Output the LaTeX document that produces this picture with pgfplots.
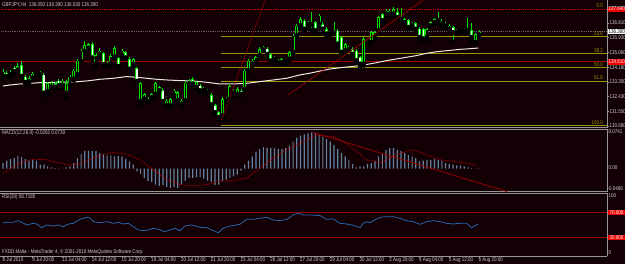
\documentclass[border=0pt]{standalone}
\usepackage{pgfplots}
\pgfplotsset{compat=1.18}
\usepackage{pgfplotstable}
\usepackage{fontspec}
\setmainfont{Liberation Sans}
\newfontfamily\mt[FakeStretch=0.82]{Liberation Sans}
\newcommand\mtf{\mt\fontsize{5.5}{6.5}\selectfont}
\definecolor{bg}{RGB}{19,0,5}
\definecolor{frame}{RGB}{150,150,150}
\definecolor{lbl}{RGB}{205,205,205}
\definecolor{cgreen}{RGB}{0,225,0}
\definecolor{cwhite}{RGB}{235,255,235}
\definecolor{ma}{RGB}{235,235,222}
\definecolor{fib}{RGB}{150,150,0}
\definecolor{redline}{RGB}{150,0,0}
\definecolor{reddot}{RGB}{200,0,0}
\definecolor{bid}{RGB}{95,95,95}
\definecolor{hist}{RGB}{100,130,160}
\definecolor{rsi}{RGB}{40,100,170}
\definecolor{boxred}{RGB}{235,0,0}

\pgfplotstableread{
i o h l c
0 133.62 134.05 133.50 133.91
1 133.85 133.97 133.54 133.62
2 133.72 134.01 133.62 133.91
3 134.15 134.25 133.82 133.91
4 133.97 134.41 133.89 134.25
5 134.31 134.55 133.50 133.62
6 133.62 133.72 133.18 133.26
7 133.26 133.66 133.18 133.52
8 133.52 133.91 133.46 133.78
9 133.91 133.97 133.70 133.78
10 133.87 133.93 133.66 133.72
11 133.72 133.82 132.52 132.62
12 132.72 133.32 132.52 133.22
13 132.98 133.38 132.90 133.26
14 133.22 133.30 132.90 132.98
15 133.38 133.46 132.98 133.06
16 133.06 133.46 132.98 133.38
17 132.62 133.42 132.39 133.22
18 133.12 133.72 133.02 133.62
19 133.46 134.05 133.38 133.97
20 133.72 134.65 133.66 134.57
21 134.51 135.24 134.45 135.16
22 135.10 135.76 135.05 135.50
23 135.56 135.64 135.20 135.30
24 135.56 135.70 134.61 134.71
25 134.37 135.05 134.25 134.91
26 134.91 135.30 134.85 135.16
27 135.01 135.10 134.25 134.31
28 134.25 134.57 134.17 134.45
29 134.37 134.97 134.27 134.85
30 134.77 135.44 134.65 135.30
31 134.71 134.81 134.15 134.21
32 134.85 135.24 134.71 135.16
33 135.07 135.16 134.65 134.71
34 134.67 134.77 133.97 134.05
35 134.31 134.75 134.25 134.65
36 134.11 134.21 133.26 133.32
37 132.13 133.32 131.99 133.22
38 132.27 132.66 132.17 132.58
39 132.13 132.39 132.07 132.29
40 132.37 132.66 132.27 132.58
41 132.56 133.32 132.47 133.22
42 132.76 133.06 132.66 132.98
43 132.82 132.92 132.07 132.13
44 131.87 132.27 131.79 132.19
45 131.87 132.37 131.77 132.27
46 132.47 132.86 132.39 132.78
47 132.17 132.78 132.07 132.68
48 131.97 132.27 131.87 132.19
49 132.17 133.36 132.07 133.26
50 133.16 133.46 133.06 133.38
51 133.48 133.58 133.06 133.16
52 132.96 133.36 132.86 133.28
53 133.08 133.18 132.68 132.76
54 132.76 132.98 132.66 132.88
55 132.66 132.86 132.52 132.78
56 132.52 132.62 131.87 131.93
57 131.93 131.99 131.39 131.47
58 131.49 131.59 131.08 131.18
59 131.28 132.39 131.04 132.29
60 132.17 132.43 132.07 132.29
61 132.27 133.18 132.19 133.06
62 132.78 132.86 132.54 132.62
63 132.56 132.98 132.47 132.88
64 132.78 132.86 132.47 132.56
65 132.86 134.05 132.78 133.97
66 133.95 134.65 133.87 134.57
67 134.35 134.65 134.25 134.57
68 134.45 134.85 134.35 134.77
69 134.85 135.36 134.75 135.26
70 135.20 135.44 135.14 135.38
71 135.28 135.40 134.85 134.93
72 134.97 135.05 134.45 134.53
73 134.79 134.87 134.55 134.63
74 134.43 134.67 134.37 134.59
75 134.45 134.75 134.37 134.67
76 134.53 134.75 134.45 134.67
77 134.65 135.16 134.57 135.07
78 135.05 136.14 134.97 136.06
79 136.04 136.75 135.96 136.65
80 136.63 137.15 136.55 137.05
81 136.95 137.05 136.35 136.43
82 136.71 136.95 136.63 136.87
83 136.71 137.49 136.39 136.87
84 136.85 136.95 136.26 136.33
85 136.73 137.35 136.65 137.25
86 136.75 136.85 136.35 136.43
87 136.45 136.55 136.06 136.14
88 136.14 136.35 136.06 136.28
89 136.22 136.89 136.14 136.37
90 136.35 136.43 135.40 135.54
91 135.96 136.04 134.97 135.05
92 135.14 135.64 135.05 135.56
93 135.22 135.46 135.14 135.38
94 135.28 135.36 134.85 134.93
95 135.16 135.24 134.45 134.55
96 134.77 134.85 134.21 134.35
97 134.35 135.96 134.27 135.86
98 135.54 135.76 135.46 135.68
99 135.64 136.35 135.56 136.26
100 135.94 136.33 135.86 136.26
101 136.33 137.23 136.26 137.15
102 137.35 137.43 136.85 136.93
103 137.33 137.62 137.25 137.55
104 137.33 137.62 137.25 137.55
105 137.33 137.74 137.25 137.64
106 137.47 137.68 137.05 137.13
107 137.03 137.68 136.95 137.23
108 136.83 137.13 136.75 137.05
109 136.97 137.05 136.45 136.53
110 136.63 136.85 136.55 136.77
111 136.79 136.87 136.35 136.43
112 136.47 136.55 135.86 135.94
113 136.45 136.53 135.76 135.84
114 135.94 136.53 135.84 136.45
115 136.63 136.93 136.55 136.85
116 136.83 137.13 136.75 137.05
117 136.93 137.49 136.85 137.05
118 136.73 137.03 136.65 136.95
119 136.77 136.85 136.55 136.61
120 136.43 136.73 136.35 136.65
121 136.57 136.65 135.70 136.22
122 136.24 136.43 136.16 136.35
123 136.30 136.43 136.24 136.37
124 136.31 136.53 136.26 136.45
125 136.33 137.09 136.26 136.45
126 136.37 136.79 135.70 135.94
127 135.64 136.24 135.56 136.16
128 136.05 136.39 136.03 136.30
}\candles

\pgfplotsset{mtaxis/.style={scale only axis, width=607pt, xmin=-0.81, xmax=162.4,
  axis x line*=box, axis y line*=right,
  axis line style={draw=frame, line width=1pt},
  xtick=\empty, ytick=\empty, clip mode=individual,
  tick style={draw=frame, line width=0.6pt}, major tick length=2pt, tick align=outside,
  yticklabel style={font=\mtf, text=lbl, inner sep=0.5pt},
  xticklabel style={font=\mtf, text=lbl, inner sep=0.5pt}}}

\begin{document}
\begin{tikzpicture}
\fill[bg] (0pt,0pt) rectangle (625pt,264pt);
\useasboundingbox (0pt,0pt) rectangle (625pt,264pt);

% ---------------- main price window
\begin{axis}[mtaxis, at={(0pt,136pt)}, anchor=south west, height=128pt,
  ymin=130.56, ymax=138.18,
  ytick={130.68,131.555,132.43,133.305,134.18,135.055,135.93,136.805,137.68},
  yticklabels={130.680,131.550,132.430,133.300,134.180,135.060,135.930,136.810,137.680}]
\addplot[reddot, densely dotted, line width=0.8pt] coordinates {(-1,137.64) (163,137.64)};
\addplot[bid, densely dotted, line width=0.8pt] coordinates {(-1,136.30) (163,136.30)};
\addplot[redline, line width=1pt] coordinates {(-1,134.49) (163,134.49)};
\addplot[fib, line width=0.9pt] coordinates {(58.6,136.00) (163,136.00)};
\addplot[fib, line width=0.9pt] coordinates {(58.6,134.99) (163,134.99)};
\addplot[fib, line width=0.9pt] coordinates {(58.6,134.17) (163,134.17)};
\addplot[fib, line width=0.9pt] coordinates {(58.6,133.35) (163,133.35)};
\addplot[fib, line width=1.6pt] coordinates {(58.6,130.70) (163,130.70)};
\addplot[ma, line width=1pt] coordinates {(0,133.06) (1.9,133.12) (4.6,133.18) (7.3,133.22) (10,133.26) (12.6,133.26) (15.3,133.30) (18,133.28) (22.5,133.36) (26.1,133.46) (29.7,133.52) (33.2,133.62) (35.9,133.58) (38.6,133.52) (41.3,133.46) (44,133.42) (47.6,133.38) (51.2,133.36) (54.8,133.28) (58.3,133.18) (61.9,133.18) (65.5,133.22) (69.1,133.32) (72.7,133.42) (76.3,133.52) (79.8,133.72) (82.5,133.82) (85.2,133.95) (87.9,134.07) (91.5,134.17) (96,134.27) (100.5,134.45) (103.1,134.57) (105.8,134.67) (108.5,134.77) (111.2,134.87) (113.9,135.01) (116.6,135.10) (119.3,135.16) (122.8,135.24) (125.5,135.28) (127.8,135.32)};
\addplot[only marks, mark=none, error bars/.cd, y dir=plus, y explicit, error mark=none,
  error bar style={draw=cgreen, line width=0.9pt, line cap=butt}]
  table[x=i, y=l, y error expr={\thisrow{h}-\thisrow{l}}] {\candles};
\addplot[only marks, mark=none, error bars/.cd, y dir=plus, y explicit, error mark=none,
  error bar style={draw=cgreen, line width=3pt, line cap=butt}]
  table[x=i, y expr={min(\thisrow{o},\thisrow{c})}, y error expr={max(abs(\thisrow{o}-\thisrow{c}),0.05)}] {\candles};
\addplot[only marks, mark=none, error bars/.cd, y dir=plus, y explicit, error mark=none,
  error bar style={draw=cwhite, line width=1.3pt, line cap=butt}]
  table[x=i, y expr={min(\thisrow{o},\thisrow{c})+0.035}, y error expr={ifthenelse(\thisrow{o}>\thisrow{c},max(\thisrow{o}-\thisrow{c}-0.07,0),0)}] {\candles};
\addplot[only marks, mark=none, error bars/.cd, y dir=plus, y explicit, error mark=none,
  error bar style={draw=bg, line width=1.3pt, line cap=butt}]
  table[x=i, y expr={min(\thisrow{o},\thisrow{c})+0.035}, y error expr={ifthenelse(\thisrow{c}>\thisrow{o},max(\thisrow{c}-\thisrow{o}-0.07,0),0)}] {\candles};
\addplot[reddot, densely dotted, line width=0.8pt] coordinates {(58.8,131.04) (70.5,138.18)};
\addplot[redline, line width=0.7pt] coordinates {(76.7,132.53) (113.0,138.18)};
\node[font=\mtf, text=fib, anchor=south east, inner sep=0.5pt] at (axis cs:161.5,137.66) {0.0};
\node[font=\mtf, text=fib, anchor=south east, inner sep=0.5pt] at (axis cs:161.5,136.03) {23.6};
\node[font=\mtf, text=fib, anchor=south east, inner sep=0.5pt] at (axis cs:161.5,135.02) {38.2};
\node[font=\mtf, text=fib, anchor=south east, inner sep=0.5pt] at (axis cs:161.5,134.20) {50.0};
\node[font=\mtf, text=fib, anchor=south east, inner sep=0.5pt] at (axis cs:161.5,133.38) {61.8};
\node[font=\mtf, text=fib, anchor=south east, inner sep=0.5pt] at (axis cs:161.5,130.75) {100.0};
\coordinate (p1) at (axis cs:162.4,137.64);
\coordinate (p2) at (axis cs:162.4,136.30);
\coordinate (p3) at (axis cs:162.4,134.49);
\end{axis}
\node[font=\mtf, fill=boxred, text=white, anchor=west, inner sep=0.6pt, minimum width=17pt] at ([xshift=0.8pt]p1) {137.640};
\node[font=\mtf, fill=white, text=black, anchor=west, inner sep=0.6pt, minimum width=17pt] at ([xshift=0.8pt]p2) {136.300};
\node[font=\mtf, fill=boxred, text=white, anchor=west, inner sep=0.6pt, minimum width=17pt] at ([xshift=0.8pt]p3) {134.510};
\node[font=\mtf, text=lbl, anchor=west, inner sep=0pt] at (2pt,259pt) {GBPJPY,H4\ \ 136.050 136.390 136.030 136.300};

% ---------------- MACD window
\begin{axis}[mtaxis, at={(0pt,72pt)}, anchor=south west, height=62.5pt,
  ymin=-0.0475, ymax=0.0799]
\addplot[ybar, bar width=1.2pt, fill=hist, draw=none] coordinates {
(0,0.0115) (1,0.0162) (2,0.0195) (3,0.0216) (4,0.0263) (5,0.0236) (6,0.0195) (7,0.0162) (8,0.0182) (9,0.0162)
(10,0.0081) (11,0.0081) (12,0.0047) (13,0.0027) (14,0.0013) (15,-0.0007) (16,0.0003) (17,0.0027) (18,0.0047) (19,0.0115)
(20,0.0216) (21,0.0296) (22,0.0364) (23,0.0364) (24,0.0364) (25,0.0364) (26,0.0317) (27,0.0296) (28,0.0270) (29,0.0270)
(30,0.0249) (31,0.0263) (32,0.0249) (33,0.0202) (34,0.0148) (35,0.0081) (36,-0.0054) (37,-0.0108) (38,-0.0189) (39,-0.0256)
(40,-0.0270) (41,-0.0323) (42,-0.0357) (43,-0.0337) (44,-0.0377) (45,-0.0391) (46,-0.0377) (47,-0.0391) (48,-0.0323) (49,-0.0243)
(50,-0.0189) (51,-0.0189) (52,-0.0175) (53,-0.0175) (54,-0.0202) (55,-0.0243) (56,-0.0270) (57,-0.0337) (58,-0.0323) (59,-0.0256)
(60,-0.0222) (61,-0.0189) (62,-0.0155) (63,-0.0121) (64,-0.0040) (65,0.0081) (66,0.0162) (67,0.0249) (68,0.0350) (69,0.0404)
(70,0.0438) (71,0.0431) (72,0.0418) (73,0.0418) (74,0.0404) (75,0.0404) (76,0.0418) (77,0.0472) (78,0.0553) (79,0.0633)
(80,0.0674) (81,0.0701) (82,0.0721) (83,0.0741) (84,0.0721) (85,0.0687) (86,0.0654) (87,0.0606) (88,0.0553) (89,0.0485)
(90,0.0404) (91,0.0317) (92,0.0249) (93,0.0182) (94,0.0094) (95,0.0027) (96,0.0047) (97,0.0047) (98,0.0094) (99,0.0115)
(100,0.0162) (101,0.0249) (102,0.0317) (103,0.0384) (104,0.0418) (105,0.0418) (106,0.0384) (107,0.0364) (108,0.0317) (109,0.0283)
(110,0.0249) (111,0.0216) (112,0.0148) (113,0.0162) (114,0.0182) (115,0.0182) (116,0.0202) (117,0.0182) (118,0.0162) (119,0.0115)
(120,0.0094) (121,0.0081) (122,0.0067) (123,0.0067) (124,0.0047) (125,0.0027) (126,0.0013) (127,0.0003) (128,0.0007)};
\addplot[reddot, densely dotted, line width=0.8pt] coordinates {(0,-0.0088) (4.6,0.0115) (8.2,0.0195) (11.7,0.0182) (15.3,0.0115) (18.9,0.0067) (22.5,0.0162) (26.1,0.0270) (29.7,0.0330) (33.2,0.0296) (36.8,0.0182) (40.4,-0.0020) (44.0,-0.0222) (47.6,-0.0323) (51.2,-0.0357) (54.8,-0.0323) (58.3,-0.0256) (61.9,-0.0243) (65.5,-0.0189) (69.1,0.0013) (72.7,0.0216) (76.3,0.0384) (79.8,0.0519) (83.4,0.0654) (84.3,0.0687) (88.8,0.0654) (91.5,0.0553) (95.1,0.0350) (97.8,0.0182) (101.3,0.0115) (103.1,0.0182) (106.7,0.0317) (110.3,0.0384) (113.9,0.0283) (117.5,0.0182) (121.1,0.0148) (124.6,0.0115) (127.3,0.0067)};
\addplot[redline, line width=0.8pt] coordinates {(83.3,0.0741) (135.5,-0.0465)};
\node[font=\mtf, text=lbl, anchor=west, inner sep=0.5pt] at (axis cs:162.4,0.0748) {\,0.0741};
\node[font=\mtf, text=lbl, anchor=west, inner sep=0.5pt] at (axis cs:162.4,0.0020) {\,0.00};
\node[font=\mtf, text=lbl, anchor=west, inner sep=0.5pt] at (axis cs:162.4,-0.0404) {-0.0466};
\end{axis}
\node[font=\mtf, text=lbl, anchor=west, inner sep=0pt] at (2pt,131pt) {MACD(12,26,9) -0.0292 0.0739};

% ---------------- RSI window
\begin{axis}[mtaxis, at={(0pt,7.5pt)}, anchor=south west, height=63pt,
  ymin=-0.1, ymax=100.7,
  xtick={0,8,...,128}, xtick pos=bottom,
  xticklabels={8 Jul 2010,9 Jul 20:00,13 Jul 04:00,14 Jul 12:00,15 Jul 20:00,19 Jul 04:00,20 Jul 12:00,21 Jul 20:00,23 Jul 04:00,26 Jul 12:00,27 Jul 20:00,29 Jul 04:00,30 Jul 12:00,2 Aug 20:00,4 Aug 04:00,5 Aug 12:00,6 Aug 20:00},
  xticklabel style={anchor=north west, xshift=-1.2pt, yshift=1.8pt}]
\addplot[redline, line width=0.9pt] coordinates {(-1,70) (163,70)};
\addplot[redline, line width=0.9pt] coordinates {(-1,30) (163,30)};
\addplot[rsi, line width=0.8pt] coordinates {(0,54.0) (1.0,54.6) (2.8,54.6) (4.1,57.2) (5.0,54.6) (6.4,50.3) (8.1,53.0) (9.1,51.9) (10.4,46.0) (11.7,50.3) (13.5,48.7) (14.9,50.3) (16.2,47.6) (17.6,51.9) (18.9,53.0) (20.7,59.4) (22.5,62.6) (23.4,61.5) (24.3,55.6) (26.1,54.0) (27.9,55.6) (29.7,53.0) (31.0,54.6) (32.3,51.9) (33.7,53.0) (35.0,47.6) (36.4,42.3) (37.7,41.2) (39.1,42.3) (40.4,45.0) (41.8,43.4) (43.5,39.6) (44.9,42.3) (46.2,45.0) (47.6,41.2) (48.9,48.7) (50.7,50.3) (53.0,46.6) (54.8,46.0) (56.5,41.2) (57.9,38.0) (59.2,45.0) (61.0,48.7) (61.9,49.2) (63.7,51.4) (65.5,59.4) (67.3,59.4) (69.1,61.0) (70.9,62.6) (72.7,58.3) (74.5,57.2) (76.3,59.4) (78.0,66.3) (79.4,69.0) (80.7,66.3) (82.5,66.3) (85.2,65.5) (87.0,59.4) (88.8,59.9) (90.6,53.0) (92.4,51.9) (94.2,49.8) (96.0,46.0) (96.9,53.0) (97.8,55.6) (98.7,54.0) (99.6,57.2) (101.3,62.6) (103.1,63.6) (104.9,63.6) (106.7,61.0) (108.5,57.2) (110.3,55.6) (112.1,51.4) (113.9,55.6) (115.7,57.2) (117.5,55.6) (119.3,53.0) (121.1,51.9) (122.8,53.0) (124.6,53.0) (126.0,46.0) (127.3,50.3) (127.8,51.9)};
\node[font=\mtf, text=lbl, anchor=west, inner sep=0.5pt] at (axis cs:162.4,96.7) {\,100};
\node[font=\mtf, text=lbl, anchor=west, inner sep=0.5pt] at (axis cs:162.4,5.5) {\,0};
\coordinate (r1) at (axis cs:162.4,70);
\coordinate (r2) at (axis cs:162.4,30);
\end{axis}
\node[font=\mtf, fill=boxred, text=white, anchor=west, inner sep=0.6pt, minimum width=17pt] at ([xshift=0.8pt]r1) {70.000};
\node[font=\mtf, fill=boxred, text=white, anchor=west, inner sep=0.6pt, minimum width=17pt] at ([xshift=0.8pt]r2) {30.000};
\node[font=\mtf, text=lbl, anchor=west, inner sep=0pt] at (2pt,67pt) {RSI(20) 58.7185};
\node[font=\mtf, text=lbl, anchor=west, inner sep=0pt] at (2pt,12pt) {FXDD Malta - MetaTrader 4, © 2001-2010 MetaQuotes Software Corp.};
\end{tikzpicture}
\end{document}
